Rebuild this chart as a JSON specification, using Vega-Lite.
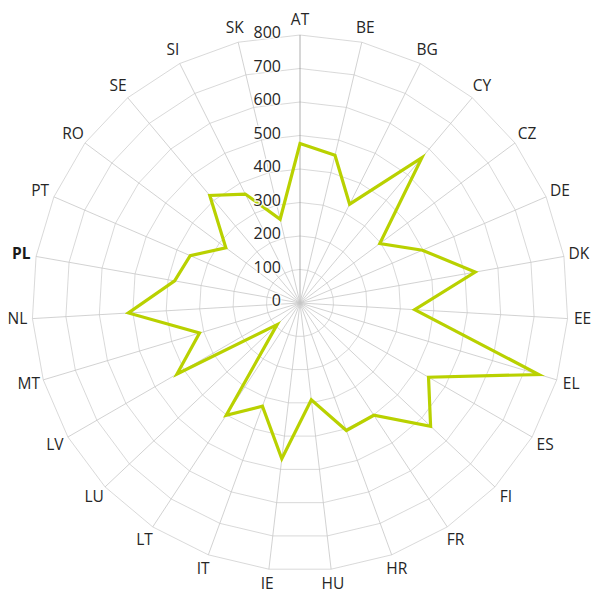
{
  "$schema": "https://vega.github.io/schema/vega-lite/v6.json",
  "width": 536,
  "height": 536,
  "autosize": {"type": "none"},
  "padding": {"left": 32, "top": 35, "right": 27, "bottom": 20},
  "background": "white",
  "config": {"view": {"stroke": null}, "text": {"font": "Open Sans"}},
  "datasets": {
    "countries": [
      {"c": "AT", "v": 476}, {"c": "BE", "v": 453}, {"c": "BG", "v": 330},
      {"c": "CY", "v": 566}, {"c": "CZ", "v": 297}, {"c": "DE", "v": 398},
      {"c": "DK", "v": 531}, {"c": "EE", "v": 343}, {"c": "EL", "v": 744},
      {"c": "ES", "v": 443}, {"c": "FI", "v": 536}, {"c": "FR", "v": 401},
      {"c": "HR", "v": 405}, {"c": "HU", "v": 291}, {"c": "IE", "v": 468},
      {"c": "IT", "v": 328}, {"c": "LT", "v": 401}, {"c": "LU", "v": 94},
      {"c": "LV", "v": 424}, {"c": "MT", "v": 313}, {"c": "NL", "v": 513},
      {"c": "PL", "v": 380}, {"c": "PT", "v": 357}, {"c": "RO", "v": 276},
      {"c": "SE", "v": 419}, {"c": "SI", "v": 364}, {"c": "SK", "v": 257}
    ],
    "levels": [
      {"level": 0}, {"level": 100}, {"level": 200}, {"level": 300}, {"level": 400},
      {"level": 500}, {"level": 600}, {"level": 700}, {"level": 800}
    ]
  },
  "layer": [
    {
      "data": {"name": "countries"},
      "transform": [
        {"window": [{"op": "row_number", "as": "i"}]},
        {"calculate": "(datum.i - 1) * 2 * PI / 27", "as": "a"},
        {"calculate": "[100, 200, 300, 400, 500, 600, 700, 800]", "as": "lv"},
        {"flatten": ["lv"]},
        {"calculate": "datum.lv * sin(datum.a)", "as": "px"},
        {"calculate": "datum.lv * cos(datum.a)", "as": "py"}
      ],
      "mark": {"type": "line", "interpolate": "linear-closed", "stroke": "#cfcfcf", "strokeWidth": 0.8},
      "encoding": {
        "x": {"field": "px", "type": "quantitative", "scale": {"domain": [-800, 800], "nice": false, "zero": false}, "axis": null},
        "y": {"field": "py", "type": "quantitative", "scale": {"domain": [-800, 800], "nice": false, "zero": false}, "axis": null},
        "detail": {"field": "lv", "type": "nominal"},
        "order": {"field": "i", "type": "quantitative"}
      }
    },
    {
      "data": {"name": "countries"},
      "transform": [
        {"window": [{"op": "row_number", "as": "i"}]},
        {"calculate": "(datum.i - 1) * 2 * PI / 27", "as": "a"},
        {"calculate": "800 * sin(datum.a)", "as": "sx"},
        {"calculate": "800 * cos(datum.a)", "as": "sy"},
        {"calculate": "0", "as": "z"}
      ],
      "mark": {"type": "rule", "strokeWidth": 0.8},
      "encoding": {
        "x": {"field": "z", "type": "quantitative"},
        "y": {"field": "z", "type": "quantitative"},
        "x2": {"field": "sx"},
        "y2": {"field": "sy"},
        "color": {"condition": {"test": "datum.c === 'AT'", "value": "#9a9a9a"}, "value": "#c6c6c6"}
      }
    },
    {
      "data": {"name": "countries"},
      "transform": [
        {"window": [{"op": "row_number", "as": "i"}]},
        {"calculate": "(datum.i - 1) * 2 * PI / 27", "as": "a"},
        {"calculate": "datum.v * sin(datum.a)", "as": "px"},
        {"calculate": "datum.v * cos(datum.a)", "as": "py"}
      ],
      "mark": {"type": "line", "interpolate": "linear-closed", "stroke": "#b9d100", "strokeWidth": 3.2, "strokeJoin": "miter"},
      "encoding": {
        "x": {"field": "px", "type": "quantitative"},
        "y": {"field": "py", "type": "quantitative"},
        "order": {"field": "i", "type": "quantitative"}
      }
    },
    {
      "data": {"name": "levels"},
      "transform": [{"calculate": "0", "as": "z"}],
      "mark": {"type": "text", "align": "right", "baseline": "middle", "dx": -19, "dy": -2, "fontSize": 16, "stroke": "white", "strokeWidth": 3, "strokeOpacity": 0.75, "fill": "white", "fillOpacity": 0.75},
      "encoding": {
        "x": {"field": "z", "type": "quantitative"},
        "y": {"field": "level", "type": "quantitative"},
        "text": {"field": "level", "type": "quantitative", "format": "d"}
      }
    },
    {
      "data": {"name": "levels"},
      "transform": [{"calculate": "0", "as": "z"}],
      "mark": {"type": "text", "align": "right", "baseline": "middle", "dx": -19, "dy": -2, "fontSize": 16, "fill": "#262626"},
      "encoding": {
        "x": {"field": "z", "type": "quantitative"},
        "y": {"field": "level", "type": "quantitative"},
        "text": {"field": "level", "type": "quantitative", "format": "d"}
      }
    },
    {
      "data": {"name": "countries"},
      "transform": [
        {"window": [{"op": "row_number", "as": "i"}]},
        {"calculate": "(datum.i - 1) * 2 * PI / 27", "as": "a"},
        {"calculate": "845 * sin(datum.a)", "as": "lx"},
        {"calculate": "845 * cos(datum.a)", "as": "ly"},
        {"filter": "datum.c !== 'PL'"}
      ],
      "mark": {"type": "text", "align": "center", "baseline": "middle", "fontSize": 15.5, "fill": "#262626"},
      "encoding": {
        "x": {"field": "lx", "type": "quantitative"},
        "y": {"field": "ly", "type": "quantitative"},
        "text": {"field": "c", "type": "nominal"}
      }
    },
    {
      "data": {"name": "countries"},
      "transform": [
        {"window": [{"op": "row_number", "as": "i"}]},
        {"calculate": "(datum.i - 1) * 2 * PI / 27", "as": "a"},
        {"calculate": "845 * sin(datum.a)", "as": "lx"},
        {"calculate": "845 * cos(datum.a)", "as": "ly"},
        {"filter": "datum.c === 'PL'"}
      ],
      "mark": {"type": "text", "align": "center", "baseline": "middle", "fontSize": 15.5, "fontWeight": "bold", "fill": "#1a1a1a"},
      "encoding": {
        "x": {"field": "lx", "type": "quantitative"},
        "y": {"field": "ly", "type": "quantitative"},
        "text": {"field": "c", "type": "nominal"}
      }
    }
  ]
}
